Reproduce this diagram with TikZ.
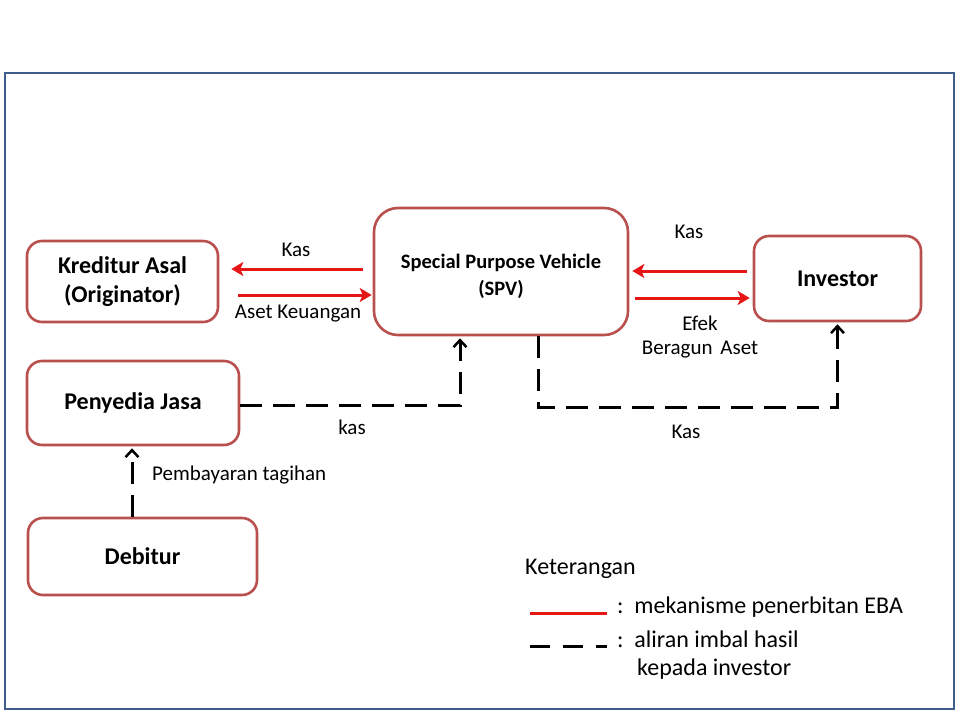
\documentclass[tikz,border=0pt]{standalone}
\usepackage{fontspec}
\setmainfont{Carlito}
\usetikzlibrary{arrows.meta,calc}
\definecolor{frameblue}{RGB}{64,94,138}
\definecolor{boxred}{RGB}{185,80,78}
\definecolor{arrred}{RGB}{230,22,22}
\tikzset{
  box/.style={draw=boxred, line width=2.6pt, rounded corners=15pt, fill=white, align=center,
    font=\fontsize{24}{29}\selectfont\bfseries, inner sep=0pt},
  lbl/.style={font=\fontsize{21}{24}\selectfont, inner sep=0pt, align=center},
  leg/.style={font=\fontsize{24}{28}\selectfont, inner sep=0pt, anchor=west},
  redarr/.style={draw=arrred, line width=3pt, -{Stealth[length=12pt,width=14pt,inset=3pt]}},
  dasharr/.style={draw=black, line width=3pt, dash pattern=on 22pt off 11pt,
    -{Straight Barb[length=7pt,width=13pt,line width=2.5pt]}},
}
\begin{document}
\begin{tikzpicture}[x=1pt,y=-1pt]
\useasboundingbox (0,0) rectangle (960,720);
\draw[frameblue, line width=2.5pt] (5,73) rectangle (954,709);

\node[box, minimum width=191pt, minimum height=81pt] (kred) at (122.5,281.5) {Kreditur Asal\\(Originator)};
\node[box, minimum width=254pt, minimum height=127pt, rounded corners=24pt] (spv) at (501,271.5) {};
\node[font=\fontsize{20.5}{27}\selectfont\bfseries, align=center, inner sep=0pt] (spvt) at ($(spv.center)+(0,5)$) {Special Purpose Vehicle\\(SPV)};
\node[box, minimum width=167pt, minimum height=85pt] (inv) at (837.5,278.5) {Investor};
\node[box, minimum width=212pt, minimum height=84pt] (pen) at (133,403) {Penyedia Jasa};
\node[box, minimum width=229pt, minimum height=77pt] (deb) at (142.5,556.5) {Debitur};

% red arrows
\draw[redarr] ($(spv.west)+(-10,-2.5)$) -- ($(kred.east)+(12,-12.5)$);
\draw[redarr] ($(kred.east)+(19,13.5)$) -- ($(spv.west)+(-1,23.5)$);
\draw[redarr] ($(inv.west)+(-6,-7.5)$) -- ($(spv.east)+(3,-0.5)$);
\draw[redarr] ($(spv.east)+(6,26.5)$) -- ($(inv.west)+(-3,19.5)$);

% dashed arrows
\draw[dasharr] ($(pen.east)+(0,2)$) -| ($(spv.south)+(-41,2)$);
\draw[dasharr] ($(spv.south)+(37,0)$) -- ++(0,71) -| ($(inv.south)+(0,2)$);
\draw[dasharr] ($(deb.north)+(-10.5,0)$) -- ($(pen.south)+(-1,2)$);

% labels
\node[lbl] (l1) at (296,250) {Kas};
\node[lbl] (l2) at (298,314) {Aset Keuangan};
\node[lbl] (l3) at (689,232) {Kas};
\node[lbl] (l4) at (700,323) {Efek};
\node[lbl] (l5) at (700,350) {Beragun\hspace{3pt} Aset};
\node[lbl] (l6) at (352,427) {kas};
\node[lbl] (l7) at (686,432) {Kas};
\node[lbl, anchor=west] (l8) at (152,475) {Pembayaran tagihan};

% legend
\node[leg] (k0) at (525,569) {Keterangan};
\coordinate (r1) at (530,613);
\coordinate (r2) at (607,613);
\draw[arrred, line width=3pt] (r1) -- (r2);
\node[leg] (k1) at (617,607) {:~~mekanisme penerbitan EBA};
\coordinate (d1) at (530,646);
\coordinate (d2) at (607,646);
\draw[black, line width=3pt, dash pattern=on 20pt off 13pt] (d1) -- (d2);
\node[leg] (k2) at (617,639) {:~~aliran imbal hasil};
\node[leg] (k3) at (637,669) {kepada investor};
\end{tikzpicture}
\end{document}
